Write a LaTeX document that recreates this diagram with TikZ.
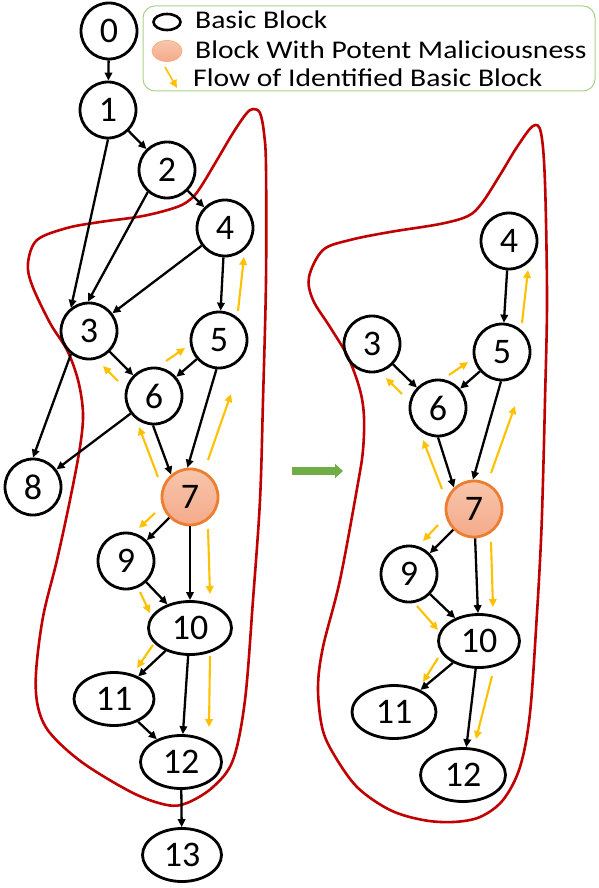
\documentclass[tikz,border=0pt]{standalone}
\usepackage{fontspec}
\setmainfont{Carlito}
\usetikzlibrary{arrows.meta,shapes.geometric}
\definecolor{redc}{HTML}{C00000}
\definecolor{yel}{HTML}{FFC000}
\definecolor{grn}{HTML}{70AD47}
\definecolor{lgrn}{HTML}{A9D18E}
\definecolor{orb}{HTML}{ED7D31}
\definecolor{ort}{HTML}{F8C6AC}
\definecolor{orbot}{HTML}{F4AA8A}
\definecolor{orl}{HTML}{F4B183}
\newcommand{\legstretch}[1]{\scalebox{1.16}[1]{#1}}
\begin{document}
\begin{tikzpicture}[x=1pt,y=-1pt,
 bb/.style={circle,draw,line width=2.8pt,minimum size=56pt,inner sep=0pt,font=\fontsize{36}{36}\selectfont},
 eb/.style={ellipse,draw,line width=2.8pt,minimum height=53pt,inner sep=0pt,font=\fontsize{36}{36}\selectfont},
 mal/.style={bb,draw=orb,top color=ort,bottom color=orbot},
 edge/.style={line width=2.3pt,-{Triangle[length=8pt,width=7.5pt]}},
 flow/.style={yel,line width=2.1pt,-{Triangle[length=8pt,width=7.5pt]}},
 hull/.style={redc,line width=2.6pt},
 legtext/.style={anchor=base west,inner sep=0pt,font=\fontsize{25.5}{25.5}\selectfont}]
\useasboundingbox (0,0) rectangle (598,888);

% hulls
\draw[hull] plot[smooth cycle,tension=0.55] coordinates {
(253,109) (260,113) (264,133) (266,167) (266,280) (263,400) (260,500) (253,600) (245,700) (233,760) (213,787) (187,803) (167,805) (133,793) (83,763) (50,733) (38,707) (36,673) (43,617) (57,560) (70,500) (80,447) (83,413) (78,380) (67,350) (50,323) (32,285) (28,263) (37,240) (67,228) (100,222) (143,216) (177,207) (192,198) (202,185) (217,160) (233,133) (246,114)};
\draw[hull] plot[smooth cycle,tension=0.55] coordinates {
(533,126) (541,133) (545,183) (547,300) (545,400) (543,480) (541,540) (537,613) (530,713) (520,767) (503,800) (480,817) (453,822) (423,820) (390,810) (357,787) (333,753) (322,727) (318,687) (323,647) (340,580) (358,483) (363,450) (364,417) (360,390) (348,357) (330,327) (313,300) (309,277) (323,250) (350,240) (390,232) (440,224) (468,216) (482,203) (500,175) (517,147)};

% legend
\node[draw=lgrn,line width=1pt,rounded corners=12pt,minimum width=452pt,minimum height=85pt,inner sep=0pt] (legend) at (369,48.5) {};
\node[ellipse,draw,line width=2.6pt,minimum width=27pt,minimum height=16pt,inner sep=0pt] (lgb) at (167,22) {};
\node[ellipse,draw=orl,line width=0.8pt,top color=ort,bottom color=orbot,minimum width=30pt,minimum height=21pt,inner sep=0pt] (lgm) at (167,51) {};
\coordinate (lfa) at (165,67);
\coordinate (lfb) at (177,88);
\draw[flow,line width=1.6pt] (lfa) -- (lfb);
\node[legtext] (t1) at (195,29) {\legstretch{Basic Block}};
\node[legtext] (t2) at (195,59) {\legstretch{Block With Potent Maliciousness}};
\node[legtext] (t3) at (193,87) {\legstretch{Flow of Identified Basic Block}};

% left graph
\node[bb] (L0) at (109,31) {0};
\node[bb] (L1) at (108,110) {1};
\node[bb] (L2) at (167,170) {2};
\node[bb] (L4) at (225,228) {4};
\node[bb] (L3) at (89,331) {3};
\node[bb] (L5) at (219,340) {5};
\node[bb] (L6) at (154,396) {6};
\node[bb] (L8) at (33,487) {8};
\node[mal] (L7) at (190,497) {7};
\node[bb] (L9) at (126,561) {9};
\node[eb,minimum width=83pt] (L10) at (190,628) {10};
\node[eb,minimum width=80pt] (L11) at (114,699) {11};
\node[eb,minimum width=81pt] (L12) at (181,762) {12};
\node[eb,minimum width=79pt] (L13) at (182,855) {13};

\draw[edge] (L0) -- (L1);
\draw[edge] (L1) -- (L2);
\draw[edge] (L1.270) -- (L3.128);
\draw[edge] (L2.229) -- (L3.92);
\draw[edge] (L2) -- (L4);
\draw[edge] (L4) -- (L3);
\draw[edge] (L4) -- (L5);
\draw[edge] (L3) -- (L6);
\draw[edge] (L3.232) -- (L8.90);
\draw[edge] (L5) -- (L6);
\draw[edge] (L5.265) -- (L7.95);
\draw[edge] (L6.268) -- (L7.130);
\draw[edge] (L6) -- (L8);
\draw[edge] (L7) -- (L9);
\draw[edge] (L7) -- (L10);
\draw[edge] (L9) -- (L10);
\draw[edge] (L10) -- (L11);
\draw[edge] (L10) -- (L12);
\draw[edge] (L11) -- (L12);
\draw[edge] (L12) -- (L13);

% left flow
\coordinate (a1) at (238,311); \coordinate (b1) at (244,257);
\coordinate (a2) at (166,361); \coordinate (b2) at (185,348);
\coordinate (a3) at (118,381); \coordinate (b3) at (103,366);
\coordinate (a4) at (158,477); \coordinate (b4) at (139,427);
\coordinate (a5) at (208,460); \coordinate (b5) at (231,394);
\coordinate (a6) at (155,513); \coordinate (b6) at (139,528);
\coordinate (a7) at (208,529); \coordinate (b7) at (210,594);
\coordinate (a8) at (140,592); \coordinate (b8) at (150,613);
\coordinate (a9) at (153,645); \coordinate (b9) at (137,668);
\coordinate (a10) at (210,656); \coordinate (b10) at (209,727);
\foreach \i in {1,...,10} {\draw[flow] (a\i) -- (b\i);}

% green arrow
\coordinate (ga) at (292,471);
\coordinate (gb) at (343,471);
\draw[grn,line width=8pt,-{Triangle[length=8pt,width=14pt]}] (ga) -- (gb);

% right graph
\node[bb] (R4) at (509,241) {4};
\node[bb] (R3) at (372,344) {3};
\node[bb] (R5) at (502,352) {5};
\node[bb] (R6) at (438,408) {6};
\node[mal] (R7) at (474,509) {7};
\node[bb] (R9) at (409,574) {9};
\node[eb,minimum width=81pt] (R10) at (479,641) {10};
\node[eb,minimum width=84pt] (R11) at (394,712) {11};
\node[eb,minimum width=85pt] (R12) at (463,775) {12};

\draw[edge] (R4) -- (R5);
\draw[edge] (R3) -- (R6);
\draw[edge] (R5) -- (R6);
\draw[edge] (R5.268) -- (R7.92);
\draw[edge] (R6.270) -- (R7.133);
\draw[edge] (R7) -- (R9);
\draw[edge] (R7) -- (R10);
\draw[edge] (R9) -- (R10);
\draw[edge] (R10) -- (R11);
\draw[edge] (R10) -- (R12);

% right flow
\coordinate (c1) at (522,323); \coordinate (d1) at (528,270);
\coordinate (c2) at (449,375); \coordinate (d2) at (468,362);
\coordinate (c3) at (402,394); \coordinate (d3) at (386,378);
\coordinate (c4) at (442,489); \coordinate (d4) at (423,440);
\coordinate (c5) at (491,473); \coordinate (d5) at (515,406);
\coordinate (c6) at (438,525); \coordinate (d6) at (423,541);
\coordinate (c7) at (491,542); \coordinate (d7) at (493,607);
\coordinate (c8) at (417,606); \coordinate (d8) at (438,630);
\coordinate (c9) at (438,658); \coordinate (d9) at (423,682);
\coordinate (c10) at (492,676); \coordinate (d10) at (476,739);
\foreach \i in {1,...,10} {\draw[flow] (c\i) -- (d\i);}
\end{tikzpicture}
\end{document}
